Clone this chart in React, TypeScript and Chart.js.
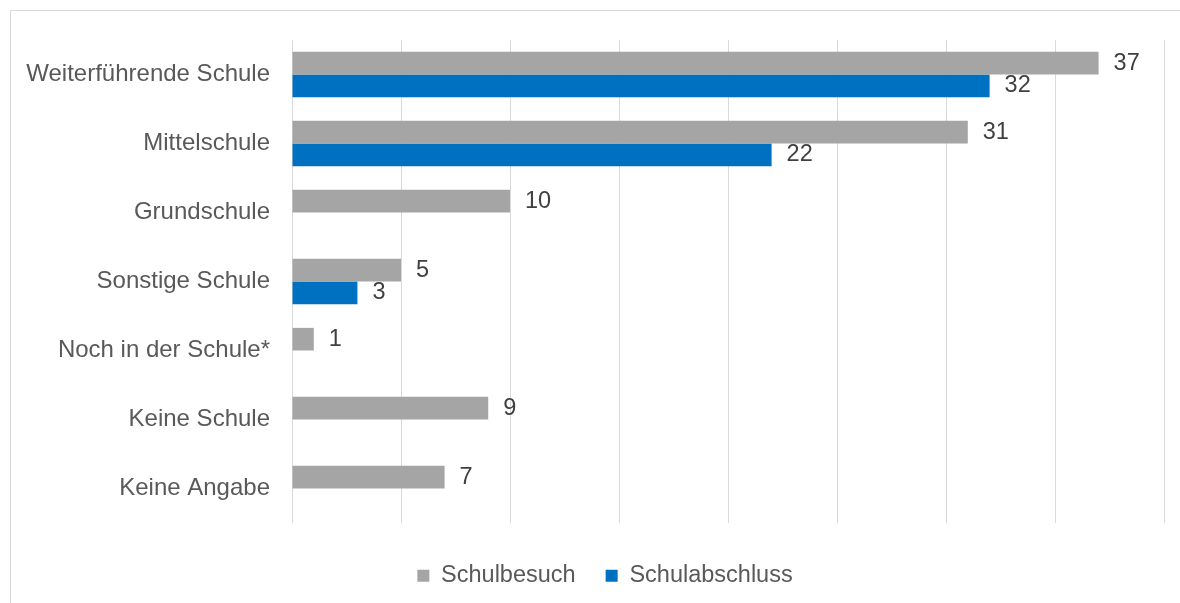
import React, { useEffect, useRef } from "react";
import { Chart, registerables } from "chart.js";

Chart.register(...registerables);

const categories = [
  "Weiterführende Schule",
  "Mittelschule",
  "Grundschule",
  "Sonstige Schule",
  "Noch in der Schule*",
  "Keine Schule",
  "Keine Angabe",
];
const schulbesuch = [37, 31, 10, 5, 1, 9, 7];
const schulabschluss: (number | null)[] = [32, 22, null, 3, null, null, null];
const seriesNames = ["Schulbesuch", "Schulabschluss"];

const FONT = "'Liberation Sans', Arial, sans-serif";

const valueLabels = {
  id: "valueLabels",
  afterLayout(chart: any) {
    const l = chart.legend;
    if (l) {
      l.left += 23;
      l.right += 23;
    }
  },
  afterDatasetsDraw(chart: any) {
    const ctx = chart.ctx;
    ctx.save();
    ctx.font = "23.5px 'Liberation Sans', Arial, sans-serif";
    ctx.fillStyle = "#404040";
    ctx.textAlign = "left";
    ctx.textBaseline = "middle";
    chart.data.datasets.forEach((ds: any, di: number) => {
      const meta = chart.getDatasetMeta(di);
      meta.data.forEach((el: any, i: number) => {
        const v = ds.data[i];
        if (v === null || v === undefined) return;
        ctx.fillText(String(v), el.x + 15, el.y);
      });
    });
    ctx.restore();
  },
};

export default function App() {
  const ref = useRef<HTMLCanvasElement>(null);
  useEffect(() => {
    if (!ref.current) return;
    const chart = new Chart(ref.current, {
      type: "bar",
      data: {
        labels: categories,
        datasets: [
          {
            label: seriesNames[0],
            data: schulbesuch,
            backgroundColor: "#a5a5a5",
            categoryPercentage: 0.656,
            barPercentage: 1,
          },
          {
            label: seriesNames[1],
            data: schulabschluss,
            backgroundColor: "#0070c0",
            categoryPercentage: 0.656,
            barPercentage: 1,
          },
        ],
      },
      options: {
        indexAxis: "y",
        responsive: false,
        animation: false,
        layout: { padding: { top: 40, right: 16, bottom: 5.5, left: 0 } },
        scales: {
          x: {
            min: 0,
            max: 40,
            ticks: { display: false, stepSize: 5 },
            grid: { color: "#d9d9d9", lineWidth: 1, drawTicks: false },
            border: { display: false },
            afterFit: (s: any) => {
              s.height = 11;
            },
          },
          y: {
            grid: { display: false, drawTicks: false },
            border: { display: false },
            ticks: {
              color: "#595959",
              padding: 22,
              font: { family: FONT, size: 24 },
            },
            afterFit: (s: any) => {
              s.width = 292;
            },
          },
        },
        plugins: {
          legend: {
            position: "bottom",
            labels: {
              color: "#595959",
              boxWidth: 12,
              boxHeight: 12,
              padding: 30,
              font: { family: FONT, size: 23.5 },
            },
          },
          tooltip: { enabled: false },
        },
      },
      plugins: [valueLabels],
    });
    return () => chart.destroy();
  }, []);
  return (
    <div style={{ position: "absolute", left: 0, top: 0, width: 1180, height: 603, overflow: "hidden", background: "#fff" }}>
      <div
        style={{
          position: "absolute",
          left: 10,
          top: 10,
          width: 1200,
          height: 620,
          border: "1px solid #d9d9d9",
          boxSizing: "border-box",
        }}
      />
      <canvas ref={ref} width={1180} height={603} style={{ position: "absolute", left: 0, top: 0 }} />
    </div>
  );
}
